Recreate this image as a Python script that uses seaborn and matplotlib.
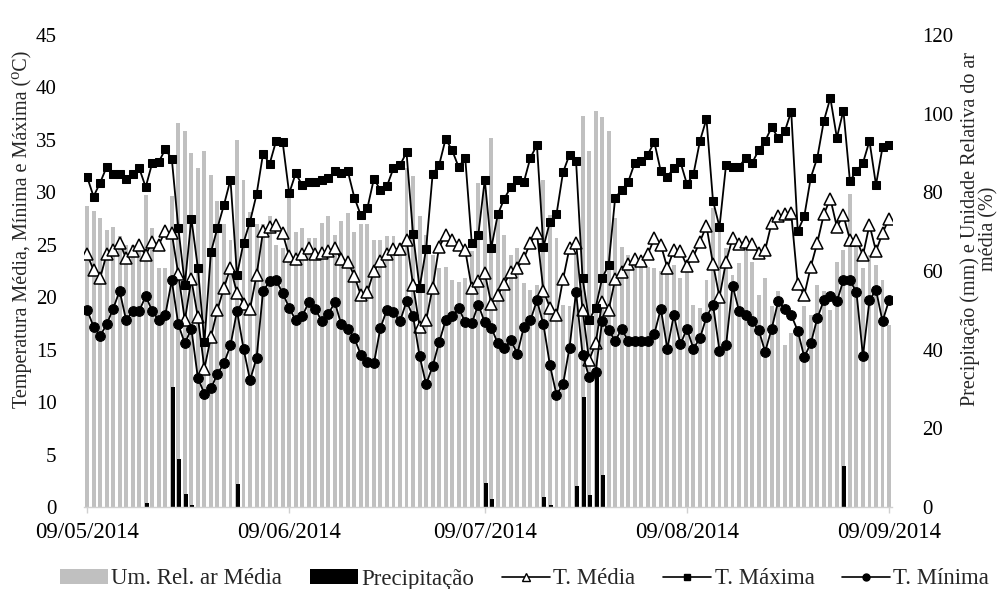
import numpy as np
import pandas as pd
import matplotlib
matplotlib.use("Agg")
import matplotlib.pyplot as plt
import seaborn as sns
from matplotlib.patches import Patch
from matplotlib.lines import Line2D

# Daily series, 09/05/2014 to 09/09/2014
dates = pd.date_range("2014-05-09", "2014-09-09", freq="D")
day = np.arange(len(dates))

# Umidade relativa média (%) - right axis
um_rel = [76.4, 75.2, 73.6, 70.5, 71.3, 68.8, 66.7, 66.5, 66.0, 79.4,
          70.9, 60.7, 60.7, 79.0, 97.7, 95.5, 90.0, 86.2, 90.6, 84.5,
          77.7, 72.0, 67.9, 93.4, 83.2, 75.0, 72.0, 72.0, 73.9, 66.7,
          65.8, 79.4, 70.0, 70.9, 68.4, 68.4, 72.2, 74.1, 69.2, 72.6,
          74.7, 70.0, 72.0, 72.0, 67.9, 68.0, 69.0, 69.0, 67.0, 86.2,
          84.1, 73.9, 69.2, 64.1, 60.7, 61.1, 57.7, 57.3, 58.2, 65.0,
          82.4, 80.7, 93.8, 75.2, 69.2, 64.1, 65.8, 56.9, 55.2, 56.5,
          83.2, 74.3, 68.4, 51.4, 51.0, 64.1, 99.4, 90.4, 100.6, 99.1,
          95.5, 73.5, 66.2, 64.1, 62.4, 62.0, 61.1, 60.7, 59.9, 62.0,
          61.5, 58.2, 59.9, 51.4, 50.7, 57.7, 76.0, 71.7, 65.8, 59.0,
          62.0, 65.0, 62.4, 53.9, 58.2, 51.0, 54.8, 41.2, 44.2, 43.7,
          51.0, 48.8, 56.5, 54.8, 50.1, 62.4, 65.4, 79.6, 67.1, 60.7,
          64.1, 61.6, 57.7, 46.3]

# Precipitação (mm) - only rainy days, right axis
chuva_dias = [9, 13, 14, 15, 16, 23, 61, 62, 70, 71, 75, 76, 77, 78, 79, 116]
chuva_mm = [1.1, 30.6, 12.1, 3.3, 0.6, 5.9, 6.2, 2.0, 2.5, 0.5, 5.3, 28.0,
            3.0, 34.5, 8.1, 10.4]
precip = np.zeros(len(day))
precip[chuva_dias] = chuva_mm

# Temperatures (C) - left axis
t_media = [24.1, 22.6, 21.8, 24.1, 24.5, 25.2, 23.7, 24.4, 25.0, 24.0,
           25.3, 25.0, 26.3, 26.1, 22.2, 17.8, 21.7, 18.1, 13.2, 16.2,
           18.8, 20.9, 22.8, 20.4, 19.4, 18.9, 22.1, 26.3, 26.7, 26.9,
           26.1, 23.9, 23.6, 24.1, 24.7, 24.1, 24.2, 24.4, 24.7, 23.6,
           23.4, 22.0, 20.2, 20.5, 22.5, 23.5, 24.1, 24.6, 24.6, 25.5,
           21.2, 17.2, 17.8, 20.9, 24.8, 25.9, 25.5, 25.0, 24.5, 20.9,
           21.5, 22.3, 19.4, 20.2, 21.3, 22.4, 22.8, 23.7, 25.2, 26.1,
           20.6, 19.0, 18.3, 21.7, 24.7, 25.2, 18.8, 14.0, 15.6, 19.5,
           18.8, 21.7, 22.4, 23.2, 23.6, 23.5, 24.1, 25.6, 25.0, 22.8,
           24.5, 24.4, 23.0, 23.9, 25.3, 26.8, 23.2, 20.0, 23.4, 25.6,
           25.1, 25.3, 25.1, 24.2, 24.5, 27.1, 27.7, 27.9, 28.0, 21.3,
           20.2, 22.9, 25.2, 27.9, 29.4, 26.7, 27.8, 25.5, 25.5, 24.0,
           26.9, 24.4, 26.1, 27.5]

t_maxima = [31.5, 29.6, 30.9, 32.4, 31.7, 31.7, 31.3, 31.7, 32.3, 30.5,
            32.8, 32.9, 34.1, 33.2, 26.6, 21.2, 27.5, 22.8, 15.7, 24.3,
            26.6, 28.8, 31.2, 22.1, 25.2, 27.2, 29.8, 33.7, 32.7, 34.9,
            34.8, 29.9, 31.8, 30.7, 31.0, 31.0, 31.2, 31.4, 32.0, 31.8,
            32.0, 29.5, 27.8, 28.5, 31.3, 30.2, 30.6, 32.3, 32.6, 33.8,
            26.0, 20.9, 24.6, 31.7, 32.6, 35.1, 34.0, 32.4, 33.3, 25.2,
            25.9, 31.2, 24.7, 27.9, 29.4, 30.5, 31.2, 31.0, 33.3, 34.5,
            24.8, 27.2, 27.9, 31.9, 33.6, 33.0, 21.8, 17.8, 19.0, 21.8,
            23.1, 29.5, 30.2, 31.0, 32.8, 33.0, 33.6, 34.8, 32.0, 31.5,
            32.3, 32.9, 30.8, 31.7, 34.9, 37.0, 29.2, 26.7, 32.6, 32.4,
            32.4, 33.3, 32.8, 34.0, 34.9, 36.2, 35.2, 35.8, 37.7, 26.3,
            27.7, 31.4, 33.3, 36.8, 39.0, 35.2, 37.8, 31.1, 32.0, 32.8,
            34.9, 30.7, 34.3, 34.5]

t_minima = [18.8, 17.2, 16.3, 17.4, 18.9, 20.6, 17.8, 18.7, 18.7, 20.1,
            18.7, 17.8, 18.3, 21.6, 17.4, 15.6, 17.0, 12.3, 10.8, 11.3,
            12.7, 13.7, 15.4, 18.7, 15.1, 12.1, 14.2, 20.6, 21.5, 21.6,
            20.4, 19.0, 17.8, 18.2, 19.5, 18.9, 17.7, 18.4, 19.5, 17.4,
            17.0, 16.1, 14.5, 13.8, 13.7, 17.1, 18.8, 18.6, 17.7, 19.6,
            18.2, 14.4, 11.7, 13.4, 15.7, 17.8, 18.2, 19.0, 17.6, 17.5,
            19.3, 17.6, 17.1, 15.6, 15.2, 15.9, 14.6, 17.2, 17.8, 19.7,
            17.4, 13.5, 10.7, 11.7, 15.2, 20.5, 14.5, 12.4, 12.9, 17.7,
            16.9, 15.8, 17.0, 15.8, 15.8, 15.8, 15.8, 16.5, 18.9, 15.1,
            18.3, 15.5, 17.0, 15.1, 16.1, 18.1, 19.3, 14.9, 15.4, 21.1,
            18.7, 18.3, 17.7, 16.9, 14.8, 17.0, 19.6, 18.9, 18.3, 16.8,
            14.3, 15.6, 18.0, 19.7, 20.1, 19.6, 21.6, 21.6, 20.5, 14.4,
            19.7, 20.7, 17.7, 19.7]

tick_days = [0, 31, 61, 92, 123]
tick_labels = [dates[i].strftime("%d/%m/%Y") for i in tick_days]

sns.set_theme(style="white")
plt.rcParams["font.family"] = ["Liberation Serif", "DejaVu Serif"]

fig = plt.figure(figsize=(10.05, 5.89), dpi=100)
ax_r = fig.add_axes([0.0840, 0.1392, 0.8032, 0.8014])

# Bars on the right axis (humidity and rain)
sns.barplot(x=day, y=um_rel, native_scale=True, color="#c0c0c0",
            saturation=1, width=0.6, linewidth=0, errorbar=None, ax=ax_r)
sns.barplot(x=day + 0.15, y=precip, native_scale=True, color="black",
            saturation=1, width=0.6, linewidth=0, errorbar=None, ax=ax_r)

# Temperature lines on a twin axis drawn above the bars
ax_t = ax_r.twinx()
sns.lineplot(x=day, y=t_media, ax=ax_t, color="black", linewidth=1.3,
             marker="^", markersize=8, markerfacecolor="white",
             markeredgecolor="black", markeredgewidth=1.1)
sns.lineplot(x=day, y=t_maxima, ax=ax_t, color="black", linewidth=1.3,
             marker="s", markersize=6.3, markeredgecolor="black")
sns.lineplot(x=day, y=t_minima, ax=ax_t, color="black", linewidth=1.3,
             marker="o", markersize=7, markeredgecolor="black")

ax_r.yaxis.tick_right()
ax_t.yaxis.tick_left()
ax_t.yaxis.set_label_position("left")

ax_r.set_xlim(-0.4, 123.4)
ax_r.set_ylim(0, 120)
ax_t.set_ylim(0, 45)
ax_r.set_yticks(range(0, 121, 20))
ax_t.set_yticks(range(0, 46, 5))
ax_r.set_xticks(tick_days)
ax_r.set_xticklabels(tick_labels)

for a in (ax_r, ax_t):
    a.set_xlabel("")
    a.set_ylabel("")
    for s in ("top", "left", "right"):
        a.spines[s].set_visible(False)
ax_t.spines["bottom"].set_visible(False)
ax_r.spines["bottom"].set_color("#d0d0d0")
ax_r.spines["bottom"].set_linewidth(1.0)

ax_r.tick_params(axis="x", length=4, color="#d0d0d0", width=1, pad=7,
                 labelsize=16.5, labelcolor="black", bottom=True)
ax_r.tick_params(axis="y", length=0, pad=22, labelsize=15, labelcolor="black")
ax_t.tick_params(axis="y", length=0, pad=20, labelsize=15, labelcolor="black")

fig.text(0.022, 1 - 229 / 589, "Temperatura Média, Mínima e Máxima (\u2070C)",
         rotation=90, ha="center", va="center", fontsize=14.5)
fig.text(0.9745, 1 - 229 / 589,
         "Precipitação (mm) e Unidade Relativa do ar\nmédia (%)",
         rotation=90, ha="center", va="center", fontsize=14.5,
         multialignment="center", linespacing=1.0)

handles = [
    Patch(facecolor="#c0c0c0", edgecolor="none"),
    Patch(facecolor="black", edgecolor="none"),
    Line2D([], [], color="black", linewidth=1.2, marker="^", markersize=6,
           markerfacecolor="white", markeredgecolor="black"),
    Line2D([], [], color="black", linewidth=1.2, marker="s", markersize=4.5),
    Line2D([], [], color="black", linewidth=1.2, marker="o", markersize=5),
]
labels = ["Um. Rel. ar Média", "Precipitação", "T. Média", "T. Máxima", "T. Mínima"]
fig.legend(handles, labels, loc="center", bbox_to_anchor=(0.522, 1 - 579 / 589),
           ncol=5, frameon=False, fontsize=16.5, handlelength=2.1,
           handleheight=0.6, handletextpad=0.15, columnspacing=1.2)

fig.savefig("out.png", dpi=100)
